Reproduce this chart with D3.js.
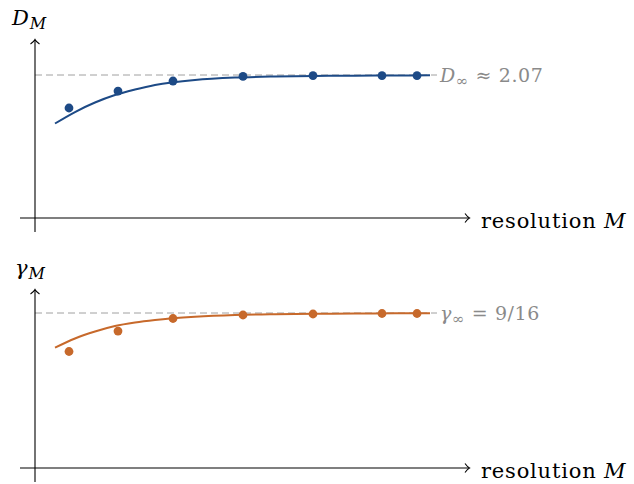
<!DOCTYPE html>
<html>
<head>
<meta charset="utf-8">
<script src="https://cdn.jsdelivr.net/npm/d3@7"></script>
<style>
  body { margin: 0; background: #fff; }
</style>
</head>
<body>
<div id="chart"></div>
<script>
// resolution values (arbitrary units along the axis)
var resM = [0.85, 2.075, 3.45, 5.2, 6.95, 8.675, 9.55];
var dPoints = [1.823, 1.95, 2.025, 2.059, 2.066, 2.066, 2.066];
var gPoints = [0.4228, 0.497, 0.5425, 0.5552, 0.5589, 0.5607, 0.5607];

// fitted curves, sampled
var curveM = [0.5, 1, 1.5, 2, 2.5, 3, 4, 5, 6, 7, 8, 9, 9.875];
var dCurve = [1.707, 1.793, 1.864, 1.920, 1.961, 1.995, 2.033, 2.051, 2.059, 2.063, 2.065, 2.066, 2.068];
var gCurve = [0.4366, 0.470, 0.4954, 0.5153, 0.528, 0.5371, 0.5487, 0.5552, 0.5581, 0.5596, 0.5607, 0.5614, 0.5618];

var dInf = 2.07, gInf = 9 / 16;

var width = 634, height = 484;
var serif = "'DejaVu Serif', 'Liberation Serif', serif";

var svg = d3.select("#chart")
    .append("svg")
    .attr("width", width)
    .attr("height", height)
    .attr("font-family", serif);

var x = d3.scaleLinear()
    .domain([0, 10])
    .range([35, 435]);

function panel(opts) {
    var y = d3.scaleLinear()
        .domain(opts.domain)
        .range([opts.axisY, opts.limitY]);

    var g = svg.append("g");

    // dashed asymptote
    g.append("line")
        .attr("x1", x(0))
        .attr("x2", x(10.05))
        .attr("y1", y(opts.limit))
        .attr("y2", y(opts.limit))
        .attr("stroke", "#a0a0a0")
        .attr("stroke-width", 1)
        .attr("stroke-dasharray", "7,4");

    // axes
    g.append("line")
        .attr("x1", 20).attr("x2", 469)
        .attr("y1", opts.axisY).attr("y2", opts.axisY)
        .attr("stroke", "#000").attr("stroke-width", 1.1);
    g.append("line")
        .attr("x1", x(0)).attr("x2", x(0))
        .attr("y1", opts.axisY + 14).attr("y2", opts.topY)
        .attr("stroke", "#000").attr("stroke-width", 1.1);

    // arrow heads (latex style)
    var ax = 469, ay = opts.axisY;
    g.append("path")
        .attr("d", "M" + (ax - 4) + "," + (ay - 4.5) + " Q" + (ax - 1.5) + "," + (ay - 1) + " " + (ax + 0.5) + "," + ay +
            " Q" + (ax - 1.5) + "," + (ay + 1) + " " + (ax - 4) + "," + (ay + 4.5))
        .attr("fill", "none").attr("stroke", "#000").attr("stroke-width", 1.1);
    var bx = x(0), by = opts.topY;
    g.append("path")
        .attr("d", "M" + (bx - 4.5) + "," + (by + 4) + " Q" + (bx - 1) + "," + (by + 1.5) + " " + bx + "," + (by - 0.5) +
            " Q" + (bx + 1) + "," + (by + 1.5) + " " + (bx + 4.5) + "," + (by + 4))
        .attr("fill", "none").attr("stroke", "#000").attr("stroke-width", 1.1);

    // curve
    var line = d3.line()
        .x(function (d, i) { return x(curveM[i]); })
        .y(function (d) { return y(d); })
        .curve(d3.curveMonotoneX);
    g.append("path")
        .datum(opts.curve)
        .attr("d", line)
        .attr("fill", "none")
        .attr("stroke", opts.color)
        .attr("stroke-width", 2);

    // points
    g.selectAll("circle")
        .data(opts.points)
        .enter()
        .append("circle")
        .attr("cx", function (d, i) { return x(resM[i]); })
        .attr("cy", function (d) { return y(d); })
        .attr("r", 4.4)
        .attr("fill", opts.color);

    // labels
    var yl = g.append("text")
        .attr("x", opts.yLabelX)
        .attr("y", opts.topY - 15)
        .style("font-size", "21px")
        .style("font-style", "italic");
    yl.append("tspan").text(opts.symbol);
    yl.append("tspan").attr("dy", 4).attr("dx", 1).style("font-size", "16px").text("M");

    g.append("text")
        .attr("x", 481)
        .attr("y", opts.axisY + 10)
        .style("font-size", "21px")
        .style("letter-spacing", "0.8px")
        .html("resolution <tspan font-style='italic'>M</tspan>");

    var ll = g.append("text")
        .attr("x", x(10.05) + 3)
        .attr("y", y(opts.limit) + 7)
        .attr("fill", "#8a8a8a")
        .style("font-size", "19px")
        .style("letter-spacing", "0.6px");
    ll.append("tspan").style("font-style", "italic").text(opts.symbol);
    ll.append("tspan").attr("dy", 4).style("font-size", "15px").text("\u221e");
    ll.append("tspan").attr("dy", -4).text(opts.limitText);
}

panel({
    domain: [1.0, dInf], axisY: 218, limitY: 75, topY: 40, limit: dInf,
    color: "#1d4a86", points: dPoints, curve: dCurve,
    symbol: "D", yLabelX: 12, limitText: " \u2248 2.07"
});

panel({
    domain: [0, gInf], axisY: 468, limitY: 313, topY: 290, limit: gInf,
    color: "#c7692b", points: gPoints, curve: gCurve,
    symbol: "\u03b3", yLabelX: 15, limitText: " = 9/16"
});
</script>
</body>
</html>
